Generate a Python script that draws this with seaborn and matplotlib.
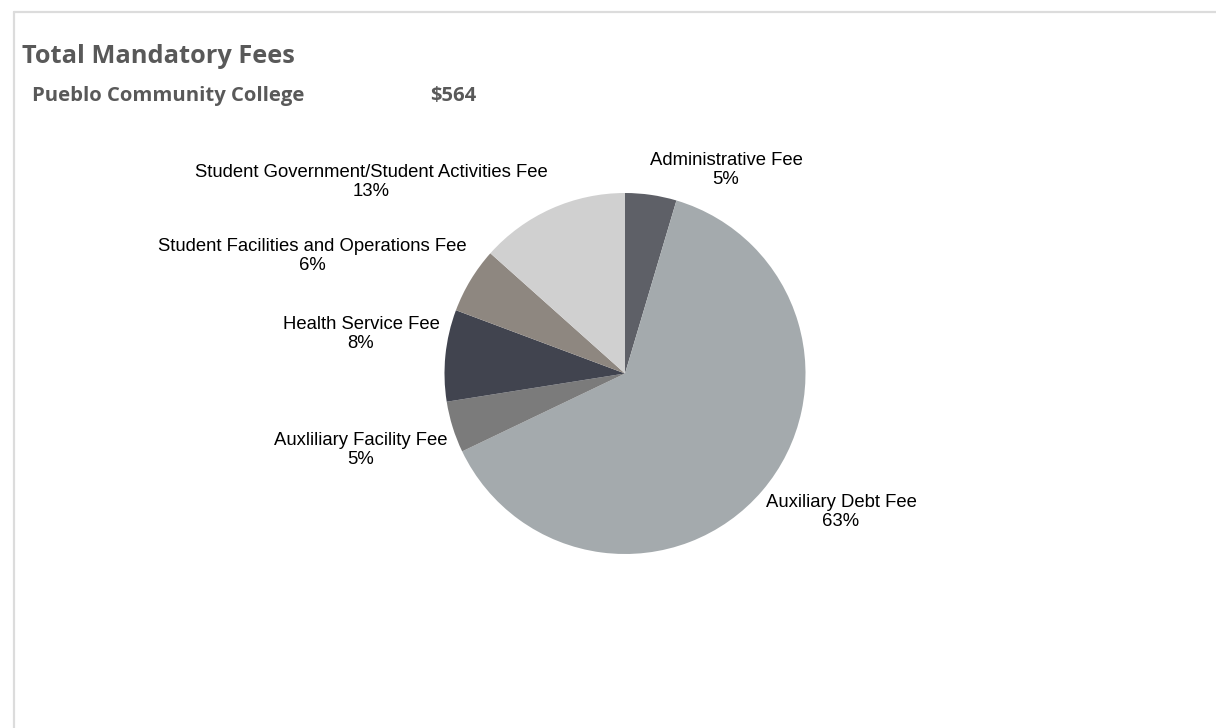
import matplotlib
matplotlib.use("Agg")
import matplotlib.pyplot as plt
import seaborn as sns
from matplotlib.lines import Line2D

# ---- data ----
categories = ["Administrative Fee", "Auxiliary Debt Fee", "Auxliliary Facility Fee",
              "Health Service Fee", "Student Facilities and Operations Fee",
              "Student Government/Student Activities Fee"]
shares = [4.6, 63.3, 4.6, 8.2, 5.9, 13.4]
colors = ["#5e6067", "#a4aaad", "#7b7b7b", "#41444f", "#8e8780", "#d0d0d0"]
title = "Total Mandatory Fees"
college = "Pueblo Community College"
total = "$564"

# label anchor positions in pixel space (x, y from top)
label_pos = [(726, 170), (841, 512), (361, 450), (361, 334), (312, 256), (371, 182)]

sns.set_theme(style="white")
plt.rcParams["font.family"] = ["Liberation Sans", "DejaVu Sans"]

W, H = 1216, 728
fig = plt.figure(figsize=(W / 100, H / 100), dpi=100)
fig.patch.set_facecolor("white")
ax = fig.add_axes([0, 0, 1, 1])

cx, cy, r = 625, H - 373.5, 180.5
ax.pie(shares, colors=colors, startangle=90, counterclock=False,
       center=(cx, cy), radius=r, frame=True,
       wedgeprops=dict(linewidth=0))
ax.set_xlim(0, W)
ax.set_ylim(0, H)
ax.set_aspect("equal")
ax.axis("off")

for name, val, (px, py) in zip(categories, shares, label_pos):
    ax.text(px, H - py, f"{name}\n{round(val):.0f}%", ha="center", va="center",
            multialignment="center", fontsize=13.3, color="#000000", linespacing=1.1)

# border
fig.add_artist(Line2D([14 / W, 14 / W], [0, 1 - 12 / H], transform=fig.transFigure,
                      color="#dcdcdc", lw=1.6))
fig.add_artist(Line2D([14 / W, 1], [1 - 12 / H, 1 - 12 / H], transform=fig.transFigure,
                      color="#dcdcdc", lw=1.6))

tfont = ["Open Sans", "DejaVu Sans"]
fig.text(22 / W, 1 - 63 / H, title, fontsize=18.3, fontweight="bold", color="#595959",
         family=tfont, va="baseline")
fig.text(32 / W, 1 - 101 / H, college, fontsize=14.6, fontweight="bold", color="#595959",
         family=tfont, va="baseline")
fig.text(430 / W, 1 - 101 / H, total, fontsize=14.6, fontweight="bold", color="#595959",
         family=tfont, va="baseline")

fig.savefig("out.png", dpi=100, facecolor="white")
